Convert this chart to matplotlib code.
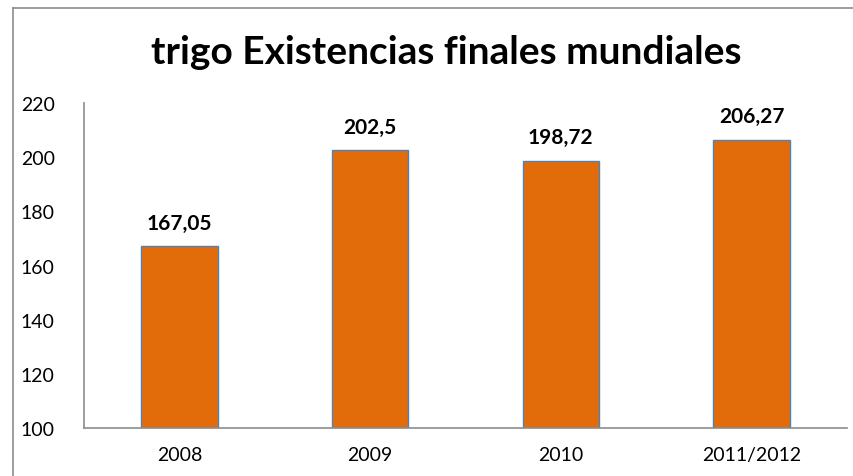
import matplotlib
matplotlib.use("Agg")
import matplotlib.pyplot as plt
from matplotlib.lines import Line2D

# Data
categories = ["2008", "2009", "2010", "2011/2012"]
values = [167.05, 202.5, 198.72, 206.27]
value_labels = ["167,05", "202,5", "198,72", "206,27"]
y_ticks = [100, 120, 140, 160, 180, 200, 220]

plt.rcParams["font.family"] = ["Lato", "DejaVu Sans"]

fig = plt.figure(figsize=(8.54, 4.77), dpi=100)
W, H = 854, 477
ax = fig.add_axes([84 / W, 1 - 429 / H, (847 - 84) / W, (429 - 104) / H])

x = range(len(categories))
ax.bar(x, [v - 100 for v in values], bottom=100, width=0.4,
       color="#E36C0A", edgecolor="#4F81BD", linewidth=1.0)

for xi, v, lab in zip(x, values, value_labels):
    ax.annotate(lab, (xi, v), xytext=(0, 10), textcoords="offset points",
                ha="center", va="bottom", fontsize=15, fontweight="bold",
                color="black")

ax.set_xlim(-0.5, len(categories) - 0.5)
ax.set_ylim(100, 220)
ax.set_yticks(y_ticks)
ax.set_xticks(list(x))
ax.set_xticklabels(categories)
ax.tick_params(axis="both", length=0, labelsize=14, colors="black")
ax.tick_params(axis="y", pad=21)
ax.tick_params(axis="x", pad=13)

for side in ("top", "right"):
    ax.spines[side].set_visible(False)
for side in ("left", "bottom"):
    ax.spines[side].set_color("#8c8c8c")
    ax.spines[side].set_linewidth(1.2)

fig.text(446 / W, 1 - 52 / H, "trigo Existencias finales mundiales",
         ha="center", va="center", fontsize=28, fontweight="bold")

# Chart frame (left and top edges visible)
fig.add_artist(Line2D([13 / W, 13 / W], [0, 1 - 9 / H],
                      transform=fig.transFigure, color="#8c8c8c", lw=1.2))
fig.add_artist(Line2D([13 / W, 1], [1 - 9 / H, 1 - 9 / H],
                      transform=fig.transFigure, color="#8c8c8c", lw=1.2))

fig.savefig("out.png", dpi=100)
